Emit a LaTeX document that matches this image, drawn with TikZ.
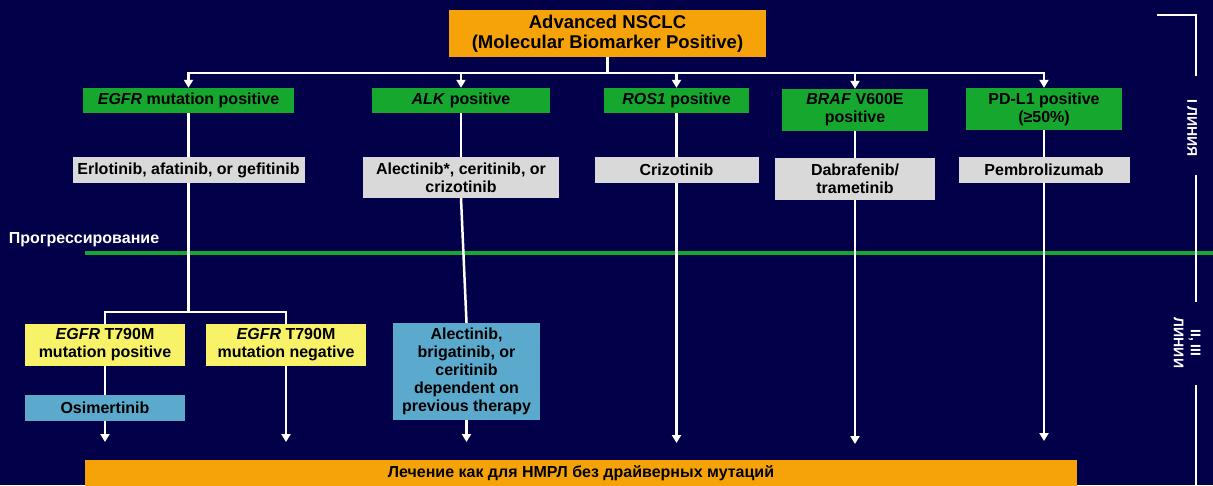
\documentclass[tikz,border=0pt]{standalone}
\usepackage{fontspec}
\setmainfont{Liberation Sans}
\usetikzlibrary{arrows.meta}
\definecolor{bgcol}{RGB}{2,0,72}
\definecolor{orangebox}{RGB}{246,163,9}
\definecolor{greenbox}{RGB}{22,167,47}
\definecolor{graybox}{RGB}{217,217,217}
\definecolor{yellowbox}{RGB}{247,242,103}
\definecolor{bluebox}{RGB}{91,170,205}
\tikzset{
  box/.style={inner sep=0pt, align=center, text=black, font=\bfseries\fontsize{16}{18}\selectfont},
  greenb/.style={box, fill=greenbox},
  grayb/.style={box, fill=graybox},
  yellowb/.style={box, fill=yellowbox},
  blueb/.style={box, fill=bluebox},
  ln/.style={draw=white, line width=2.5pt},
  arr/.style={ln, -{Triangle[width=9pt,length=8pt]}},
  sidelabel/.style={text=white, align=center, rotate=-90, inner sep=0pt, font=\bfseries\fontsize{14}{17}\selectfont}
}
\begin{document}
\begin{tikzpicture}[x=1pt,y=-1pt]
\fill[bgcol] (0,0) rectangle (1213,485);
\useasboundingbox (0,0) rectangle (1213,485);

% progression line
\node[text=white, inner sep=0pt, font=\bfseries\fontsize{16}{18}\selectfont] (prog) at (84,240) {Прогрессирование};
\coordinate (pl0) at (85,253);
\coordinate (pl1) at (1213,253);
\draw[draw=greenbox, line width=4pt] (pl0) -- (pl1);

% top box
\node[box, fill=orangebox, minimum width=317pt, minimum height=47pt, font=\bfseries\fontsize{18.5}{20.5}\selectfont] (top) at (607.5,33.5) {Advanced NSCLC\\(Molecular Biomarker Positive)};

% green boxes
\node[greenb, minimum width=211pt, minimum height=25pt] (g1) at (188.5,100.5) {\textit{EGFR} mutation positive};
\node[greenb, minimum width=178pt, minimum height=25pt] (g2) at (461,100.5) {\textit{ALK} positive};
\node[greenb, minimum width=145pt, minimum height=25pt] (g3) at (676.5,100.5) {\textit{ROS1} positive};
\node[greenb, minimum width=146pt, minimum height=42pt] (g4) at (855,110) {\textit{BRAF} V600E\\positive};
\node[greenb, minimum width=156pt, minimum height=42pt] (g5) at (1044,109) {PD-L1 positive\\(≥50\%)};

% gray boxes
\node[grayb, minimum width=232pt, minimum height=26pt] (e1) at (188.5,170) {Erlotinib, afatinib, or gefitinib};
\node[grayb, minimum width=196pt, minimum height=41pt] (e2) at (461,177.5) {Alectinib*, ceritinib, or\\crizotinib};
\node[grayb, minimum width=164pt, minimum height=26pt] (e3) at (676.5,170) {Crizotinib};
\node[grayb, minimum width=160pt, minimum height=42pt] (e4) at (855,179) {Dabrafenib/\\trametinib};
\node[grayb, minimum width=171pt, minimum height=26pt] (e5) at (1044,170) {Pembrolizumab};

% second line boxes
\node[yellowb, minimum width=160pt, minimum height=42pt] (y1) at (105,345) {\textit{EGFR} T790M\\mutation positive};
\node[yellowb, minimum width=160pt, minimum height=42pt] (y2) at (286,345) {\textit{EGFR} T790M\\mutation negative};
\node[blueb, minimum width=147pt, minimum height=97pt] (bl) at (466.5,371.5) {Alectinib,\\brigatinib, or\\ceritinib\\dependent on\\previous therapy};
\node[blueb, minimum width=160pt, minimum height=26pt] (os) at (105,408) {Osimertinib};

% bottom bar
\node[box, fill=orangebox, minimum width=992pt, minimum height=26pt, font=\bfseries\fontsize{16}{18}\selectfont] (bar) at (581,473) {Лечение как для НМРЛ без драйверных мутаций};

% connectors from top
\coordinate (bus) at (607.5,73);
\draw[arr] (top.south) -- (top.south |- bus) -| (g1.north);
\draw[arr] (top.south) -- (top.south |- bus) -| (g2.north);
\draw[arr] (top.south) -- (top.south |- bus) -| (g3.north);
\draw[arr] (top.south) -- (top.south |- bus) -| (g4.north);
\draw[arr] (top.south) -- (top.south |- bus) -| (g5.north);

% green to gray
\draw[ln] (g1.south) -- (e1.north);
\draw[ln] (g2.south) -- (e2.north);
\draw[ln] (g3.south) -- (e3.north);
\draw[ln] (g4.south) -- (e4.north);
\draw[ln] (g5.south) -- (e5.north);

% EGFR branch
\coordinate (split) at (188.5,312);
\draw[ln] (e1.south) -- (split);
\draw[ln] (split) -| (y1.north);
\draw[ln] (split) -| (y2.north);
\draw[ln] (y1.south) -- (os.north);

% arrow ends
\coordinate (a1) at (105,442);
\coordinate (a2) at (286,442);
\coordinate (a3) at (466.5,442);
\coordinate (a4) at (676.5,443);
\coordinate (a5) at (855,444);
\coordinate (a6) at (1044,441);
\draw[arr] (os.south) -- (a1);
\draw[arr] (y2.south) -- (a2);
\draw[ln] (e2.south) -- (bl.north);
\draw[arr] (bl.south) -- (a3);
\draw[arr] (e3.south) -- (a4);
\draw[arr] (e4.south) -- (a5);
\draw[arr] (e5.south) -- (a6);

% right side bracket and labels
\node[sidelabel] (l1) at (1192,128) {I ЛИНИЯ};
\node[sidelabel] (l2) at (1187,343) {II, III\\ЛИНИИ};
\coordinate (b0) at (1157,15);
\coordinate (b1) at (1196,15);
\coordinate (b2) at (1196,76);
\coordinate (b3) at (1196,175);
\coordinate (b4) at (1196,302);
\coordinate (b5) at (1196,385);
\coordinate (b6) at (1196,485);
\draw[ln] (b0) -- (b1) -- (b2);
\draw[ln] (b3) -- (b4);
\draw[ln] (b5) -- (b6);
\end{tikzpicture}
\end{document}
